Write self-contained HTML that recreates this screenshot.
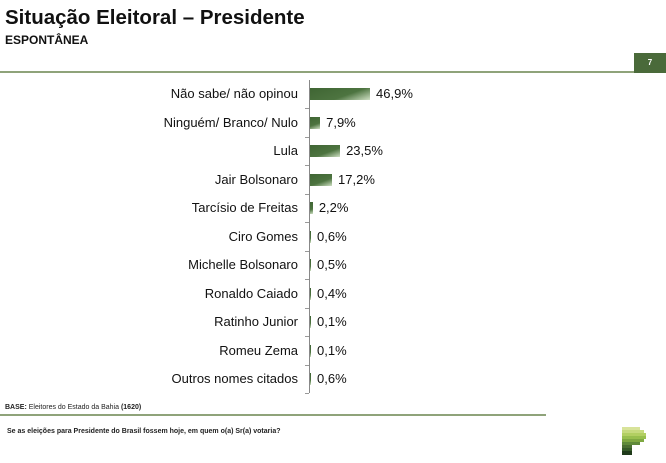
<!DOCTYPE html>
<html><head><meta charset="utf-8"><style>
body{margin:0;width:666px;height:463px;background:#fff;position:relative;overflow:hidden;font-family:"Liberation Sans",Arial,sans-serif;}
.a{position:absolute;}
.lab{position:absolute;right:368px;font-size:13px;color:#111;white-space:nowrap;}
.bar{position:absolute;left:310px;height:12px;background:linear-gradient(160deg,#3f6533 0%,#4d7440 60%,#cfe0c4 100%);}
.val{position:absolute;font-size:13px;color:#111;}
.tk{position:absolute;left:305px;width:4px;height:1px;background:#999;}
</style></head><body>
<div class="a" style="left:5px;top:6px;font-size:20.5px;font-weight:bold;color:#111;">Situação Eleitoral – Presidente</div>
<div class="a" style="left:5px;top:33px;font-size:12px;font-weight:bold;color:#111;">ESPONTÂNEA</div>
<div class="a" style="left:0;top:71px;width:634px;height:2px;background:#8fa37a;"></div>
<div class="a" style="left:634px;top:53px;width:32px;height:20px;background:#4a6a3a;color:#fff;font-size:8px;font-weight:bold;text-align:center;line-height:20px;">7</div>
<div class="a" style="left:309px;top:80px;width:1px;height:313px;background:#888;"></div>
<div id="rows"></div>
<div class="a" style="left:5px;top:404px;font-size:7px;color:#222;"><b>BASE:</b> Eleitores do Estado da Bahia <b>(1620)</b></div>
<div class="a" style="left:0;top:414px;width:546px;height:2px;background:#8fa37a;"></div>
<div class="a" style="left:7px;top:428px;font-size:7px;font-weight:bold;color:#222;">Se as eleições para Presidente do Brasil fossem hoje, em quem o(a) Sr(a) votaria?</div>
<svg class="a" style="left:622px;top:427px" width="26" height="29">
<rect x="0" y="0" width="18" height="3" fill="#d8e39a"/>
<rect x="0" y="3" width="22" height="3" fill="#c6da7e"/>
<rect x="0" y="6" width="24" height="3" fill="#b2cf62"/>
<rect x="0" y="9" width="24" height="3" fill="#98bf4e"/>
<rect x="0" y="12" width="22" height="3" fill="#7fa842"/>
<rect x="0" y="15" width="18" height="3" fill="#5f8a3a"/>
<rect x="0" y="18" width="10" height="3" fill="#4a6f32"/>
<rect x="0" y="21" width="10" height="3" fill="#355a28"/>
<rect x="0" y="24" width="10" height="4" fill="#1f3a1a"/>
</svg>
<script>
var d=[["Não sabe/ não opinou",46.9],["Ninguém/ Branco/ Nulo",7.9],["Lula",23.5],["Jair Bolsonaro",17.2],["Tarcísio de Freitas",2.2],["Ciro Gomes",0.6],["Michelle Bolsonaro",0.5],["Ronaldo Caiado",0.4],["Ratinho Junior",0.1],["Romeu Zema",0.1],["Outros nomes citados",0.6]];
var h="";
d.forEach(function(r,i){var c=94+i*28.5;var w=Math.max(1,r[1]*1.28);
h+='<div class="lab" style="top:'+(c-8)+'px">'+r[0]+'</div>';
h+='<div class="bar" style="top:'+(c-6)+'px;width:'+w+'px"></div>';
h+='<div class="val" style="left:'+(310+w+6)+'px;top:'+(c-8)+'px">'+r[1].toFixed(1).replace(".",",")+'%</div>';
h+='<div class="tk" style="top:'+(c+14)+'px"></div>';});
document.getElementById("rows").innerHTML=h;
</script>
</body></html>
